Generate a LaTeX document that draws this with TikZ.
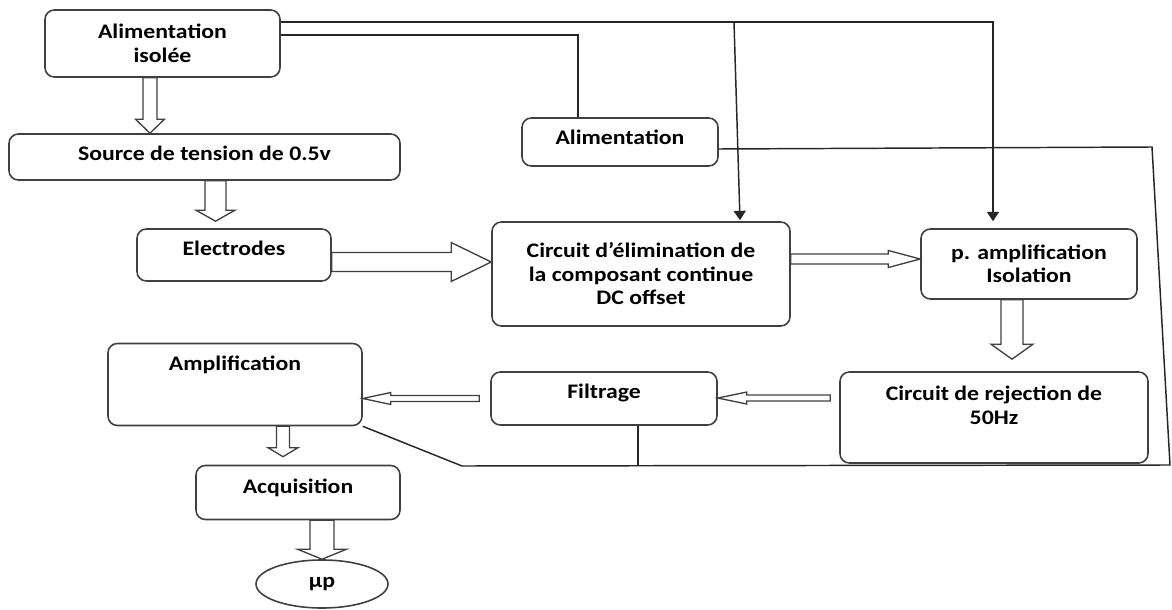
\documentclass[tikz,border=0pt]{standalone}
\usepackage{fontspec}
\setmainfont{Carlito}[FakeStretch=1.15]
\usetikzlibrary{arrows.meta,calc,shapes.geometric}

\newcommand{\hollowarrow}[5]{%
	\coordinate (ha-tip) at (#2);
	\coordinate (ha-base) at ($(#2)!#5!(#1)$);
	\draw[hollow] ($(#1)!#3!90:(#2)$) -- ($(ha-base)!#3!90:(ha-tip)$) -- ($(ha-base)!#4!90:(ha-tip)$) -- (ha-tip)
		-- ($(ha-base)!#4!-90:(ha-tip)$) -- ($(ha-base)!#3!-90:(ha-tip)$) -- ($(#1)!#3!-90:(#2)$) -- cycle;
}

\begin{document}
\begin{tikzpicture}[
		x=0.75pt, y=-0.75pt,
		box/.style={draw=black!75, line width=1.2pt, rounded corners=7pt, align=center,
			font=\fontsize{15.5}{17.6}\selectfont\bfseries},
		liftby/.style={text height=11pt, text depth=#1},
		wire/.style={draw=black!85, line width=1.1pt},
		tip/.style={-{Triangle[length=7pt,width=9pt]}},
		hollow/.style={draw=black!75, line width=1pt, fill=white, line join=miter}
		]
		\useasboundingbox (0,0) rectangle (1172,610);
		
		\node[box, minimum width=176.25pt, minimum height=50.25pt] (isolee) at (162.5,43.5) {Alimentation\\isolée};
		\node[box, liftby=5.5pt, minimum width=293.25pt, minimum height=34.5pt] (source) at (204.5,157) {Source de tension de 0.5v};
		\node[box, liftby=10pt, minimum width=145.5pt, minimum height=39pt] (electrodes) at (234,255) {Electrodes};
		\node[box, liftby=7pt, minimum width=147pt, minimum height=36pt] (alim) at (620,142) {Alimentation};
		\node[box, minimum width=223.5pt, minimum height=78pt] (circuit) at (641,274) {Circuit d’élimination de\\la composant continue\\DC offset};
		\node[box, minimum width=162pt, minimum height=52.5pt] (pamp) at (1029,264) {p. amplification\\Isolation};
		\node[box, liftby=31.8pt, minimum width=190.5pt, minimum height=61.5pt] (amp) at (235,384.5) {Amplification};
		\node[box, liftby=11.5pt, minimum width=169.5pt, minimum height=39.75pt] (filtrage) at (604,398.5) {Filtrage};
		\node[box, liftby=1pt, minimum width=231pt, minimum height=68.25pt] (rejection) at (994,417.5) {Circuit de rejection de\\50Hz};
		\node[box, liftby=10pt, minimum width=153pt, minimum height=40.5pt] (acq) at (298,492.5) {Acquisition};
		\node[box, ellipse, minimum width=99pt, minimum height=36pt] (mup) at (322,584) {µp};
		
		\coordinate (a1s) at ([xshift=-9.4pt]isolee.south);
		\coordinate (a1e) at (a1s |- source.north);
		\hollowarrow{a1s}{a1e}{5.25pt}{10.9pt}{10.5pt}
		\coordinate (a2s) at ([xshift=8.25pt]source.south);
		\coordinate (a2e) at ([yshift=5.25pt]a2s |- electrodes.north);
		\hollowarrow{a2s}{a2e}{7.9pt}{14.6pt}{8.25pt}
		\coordinate (a3s) at ([yshift=-5.25pt]electrodes.east);
		\coordinate (a3e) at (a3s -| circuit.west);
		\hollowarrow{a3s}{a3e}{7.1pt}{14.6pt}{30pt}
		\coordinate (a4s) at ([yshift=11.25pt]circuit.east);
		\coordinate (a4e) at (a4s -| pamp.west);
		\hollowarrow{a4s}{a4e}{3.75pt}{6.4pt}{24pt}
		\coordinate (a5s) at ([xshift=-12.75pt]pamp.south);
		\coordinate (a5e) at ([yshift=9pt]a5s |- rejection.north);
		\hollowarrow{a5s}{a5e}{8.25pt}{15.75pt}{11.25pt}
		\coordinate (a6s) at ([xshift=-6.75pt,yshift=14.6pt]rejection.west);
		\coordinate (a6e) at (a6s -| filtrage.east);
		\hollowarrow{a6s}{a6e}{2.25pt}{4.5pt}{21.75pt}
		\coordinate (a7s) at ([xshift=-8.25pt]filtrage.west);
		\coordinate (a7e) at (a7s -| amp.east);
		\hollowarrow{a7s}{a7e}{2.25pt}{4.5pt}{21pt}
		\coordinate (a8e) at ([xshift=-11.25pt,yshift=6pt]acq.north);
		\coordinate (a8s) at (a8e |- amp.south);
		\hollowarrow{a8s}{a8e}{4.9pt}{11.25pt}{6.75pt}
		\coordinate (a9s) at (mup.north |- acq.south);
		\hollowarrow{a9s}{mup.north}{9pt}{18.4pt}{7.5pt}
		
		\coordinate (t1) at ([yshift=16.1pt]isolee.east);
		\coordinate (p1) at ([xshift=-27pt,yshift=5.25pt]pamp.north);
		\draw[wire, tip] (t1) -- (t1 -| p1) -- (p1);
		\coordinate (c1) at ([xshift=74.25pt,yshift=0.75pt]circuit.north);
		\draw[wire, tip] ($(c1 |- t1)+(-4.5pt,0pt)$) -- (c1);
		\coordinate (t2) at ([yshift=6.4pt]isolee.east);
		\coordinate (a2) at ([xshift=-31.5pt]alim.north);
		\draw[wire] (t2) -- (t2 -| a2) -- (a2);
		
		\coordinate (r1) at (1152,147);
		\coordinate (r2) at (1170,465);
		\coordinate (r3) at (462,466);
		\draw[wire] ([yshift=-5.25pt]alim.east) -- (r1) -- (r2) -- (r3) -- (amp.south east);
		\coordinate (f1) at ([xshift=25.5pt]filtrage.south);
		\draw[wire] (f1) -- (f1 |- r3);
\end{tikzpicture}
\end{document}
